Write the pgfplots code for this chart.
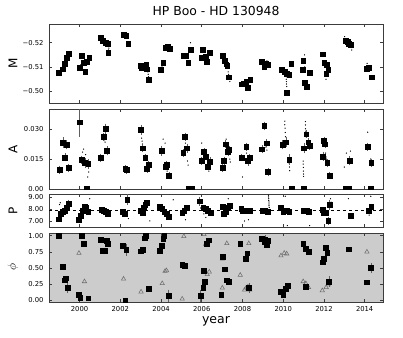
\documentclass[border=0pt]{standalone}
\usepackage{fontspec}
\setmainfont{DejaVu Sans}
\usepackage{pgfplots}
\pgfplotsset{compat=1.18}
\definecolor{panelgray}{RGB}{204,204,204}
\definecolor{axgray}{RGB}{60,60,60}
\definecolor{trigray}{RGB}{110,110,110}
\definecolor{errgray}{RGB}{95,95,95}

\pgfplotsset{
  panel/.style={
    scale only axis, width=334pt,
    xmin=1998.5, xmax=2014.9,
    xtick={2000,2002,...,2014}, xticklabels={},
    scaled y ticks=false, scaled x ticks=false,
    tick align=inside, xtick pos=both, ytick pos=both,
    major tick length=3pt,
    axis line style={axgray, line width=0.8pt},
    tick style={axgray, line width=0.6pt},
    ticklabel style={font=\fontsize{6.8}{8}\selectfont},
    yticklabel style={xshift=-2pt},
    ylabel style={font=\fontsize{12}{14}\selectfont, at={(axis description cs:-0.108,0.5)}, anchor=center},
    clip marker paths=true,
    anchor=north west,
  },
  sq/.style={only marks, mark=square*, mark size=2.4pt, black},
  dots/.style={only marks, mark=*, mark size=0.35pt, black},
  tri/.style={only marks, mark=triangle, mark size=2.5pt, trigray, mark options={line width=0.55pt}},
  errb/.style={error bars/.cd, y dir=both, y explicit,
    error bar style={errgray, line width=0.5pt},
    error mark options={errgray, mark size=1.6pt, line width=0.5pt}},
}

\begin{document}
\begin{tikzpicture}
\useasboundingbox (0,0) rectangle (403pt,-337pt);

% ---- M panel
\begin{axis}[panel, at={(49pt,-24pt)}, height=79pt,
  y dir=reverse, ymin=-0.5277, ymax=-0.4952,
  ytick={-0.52,-0.51,-0.50}, yticklabels={−0.52,−0.51,−0.50},
  ylabel={M},
  title={HP Boo - HD 130948},
  title style={font=\fontsize{12.4}{14}\selectfont, at={(axis description cs:0.5,1)}, anchor=center, yshift=7.5pt}]
\addplot[dots] coordinates {
 (1999.05,-0.5065) (1999.10,-0.5073) (2000.05,-0.5090) (2000.40,-0.5130) (2001.42,-0.5170)
 (2001.44,-0.5178) (2002.40,-0.5190) (2002.42,-0.5185) (2003.35,-0.5080) (2003.37,-0.5070)
 (2003.39,-0.5060) (2004.05,-0.5100) (2004.40,-0.5170) (2005.45,-0.5200) (2006.20,-0.5130)
 (2007.30,-0.5080) (2007.32,-0.5070) (2007.36,-0.5050) (2007.38,-0.5040) (2008.30,-0.5030)
 (2009.20,-0.5125) (2010.15,-0.5060) (2010.15,-0.5050) (2010.16,-0.5040) (2010.16,-0.5030)
 (2010.17,-0.5020) (2011.05,-0.5150) (2011.06,-0.5100) (2012.10,-0.5050) (2012.17,-0.5095)
 (2013.02,-0.5225) (2013.35,-0.5180) (2013.37,-0.5170) (2014.12,-0.5115)};
\addplot[sq, errb] coordinates {(2000.02,-0.5097) +- (0,0.0008)};
\addplot[sq] coordinates {
 (1998.99,-0.5077) (1999.16,-0.5091) (1999.27,-0.5115) (1999.37,-0.5140) (1999.45,-0.5156)
 (2000.10,-0.5145) (2000.21,-0.5119) (2000.28,-0.5081) (2000.37,-0.5122) (2000.47,-0.5138)
 (2001.02,-0.5222) (2001.15,-0.5208) (2001.28,-0.5200) (2001.38,-0.5195) (2001.41,-0.5159)
 (2002.16,-0.5232) (2002.29,-0.5228) (2002.39,-0.5197)
 (2002.98,-0.5104) (2003.05,-0.5098) (2003.11,-0.5104) (2003.17,-0.5096) (2003.23,-0.5101)
 (2003.27,-0.5108) (2003.30,-0.5091) (2003.41,-0.5047)
 (2004.00,-0.5088) (2004.11,-0.5118) (2004.21,-0.5181) (2004.32,-0.5184) (2004.44,-0.5177)
 (2005.09,-0.5145) (2005.22,-0.5145) (2005.33,-0.5118) (2005.45,-0.5170)
 (2005.98,-0.5140) (2006.06,-0.5170) (2006.19,-0.5142) (2006.26,-0.5122) (2006.39,-0.5159)
 (2007.01,-0.5145) (2007.11,-0.5126) (2007.20,-0.5112) (2007.25,-0.5107) (2007.33,-0.5058)
 (2007.94,-0.5029) (2008.06,-0.5033) (2008.18,-0.5040) (2008.26,-0.5015) (2008.38,-0.5047)
 (2008.96,-0.5122) (2009.07,-0.5101) (2009.16,-0.5115) (2009.25,-0.5108)
 (2009.93,-0.5088) (2010.06,-0.5081) (2010.18,-0.5074) (2010.29,-0.5067) (2010.39,-0.5115) (2010.16,-0.4994)
 (2010.98,-0.5126) (2010.94,-0.5088) (2011.07,-0.5035) (2011.17,-0.5019) (2011.30,-0.5077)
 (2011.95,-0.5153) (2012.01,-0.5118) (2012.13,-0.5108) (2012.11,-0.5071) (2012.21,-0.5088)
 (2013.06,-0.5208) (2013.15,-0.5203) (2013.23,-0.5197) (2013.32,-0.5191)
 (2014.10,-0.5092) (2014.20,-0.5097) (2014.34,-0.5058)};
\end{axis}

% ---- A panel
\begin{axis}[panel, at={(49pt,-109pt)}, height=80pt,
  ymin=0, ymax=0.0401,
  ytick={0,0.015,0.030}, yticklabels={0.00,0.015,0.030},
  ylabel={A}]
\addplot[dots] coordinates {
 (2010.08,0.0340) (2010.08,0.0322) (2010.09,0.0305) (2010.10,0.0283) (2010.11,0.0262)
 (2010.30,0.0128) (2010.31,0.0110) (2010.32,0.0092)
 (2011.09,0.0338) (2011.09,0.0321) (2011.10,0.0302) (2011.11,0.0290) (2011.12,0.0262)
 (2010.98,0.0140) (2010.98,0.0125) (2010.99,0.0108) (2010.99,0.0090) (2011.00,0.0075) (2011.00,0.0063)
 (2012.08,0.0180) (2012.10,0.0160) (2012.12,0.0150)
 (2000.15,0.0185) (2000.20,0.0200) (2000.30,0.0172) (2000.45,0.0085) (2000.40,0.0060)
 (2001.20,0.0245) (2001.25,0.0235) (2001.30,0.0250)
 (2003.05,0.0255) (2003.07,0.0240) (2003.09,0.0225)
 (2004.10,0.0250) (2004.20,0.0230) (2004.30,0.0090)
 (2005.20,0.0230) (2005.25,0.0210) (2005.30,0.0140) (2005.33,0.0120)
 (2006.00,0.0230) (2006.35,0.0090) (2006.40,0.0110)
 (2007.20,0.0250) (2007.38,0.0150) (2007.40,0.0135)
 (2008.00,0.0060) (2008.20,0.0180)
 (2009.15,0.0210) (2009.20,0.0195)
 (2013.00,0.0110) (2013.10,0.0180) (2013.30,0.0190)
 (2014.15,0.0285) (2014.30,0.0150)};
\addplot[sq, errb] coordinates {
 (1999.02,0.0097) +- (0,0.0012) (1999.19,0.0233) +- (0,0.0018) (1999.28,0.0158) +- (0,0.0012)
 (1999.35,0.0222) +- (0,0.0015) (1999.45,0.0105) +- (0,0.0012)
 (2000.00,0.0335) +- (0,0.0065) (2000.10,0.0147) +- (0,0.0012) (2000.26,0.0130) +- (0,0.0015)
 (2000.42,0.0125) +- (0,0.0015)
 (2001.04,0.0155) +- (0,0.0012) (2001.17,0.0263) +- (0,0.0012) (2001.27,0.0302) +- (0,0.0018)
 (2001.35,0.0192) +- (0,0.0015)
 (2002.24,0.0100) +- (0,0.0010) (2002.31,0.0095) +- (0,0.0010)
 (2003.02,0.0297) +- (0,0.0017) (2003.10,0.0205) +- (0,0.0010) (2003.22,0.0158) +- (0,0.0010)
 (2003.30,0.0102) +- (0,0.0012) (2003.38,0.0122) +- (0,0.0012)
 (2004.03,0.0192) +- (0,0.0018) (2004.22,0.0113) +- (0,0.0012) (2004.27,0.0122) +- (0,0.0012)
 (2004.39,0.0068) +- (0,0.0010)
 (2005.09,0.0180) +- (0,0.0012) (2005.17,0.0263) +- (0,0.0012) (2005.28,0.0205) +- (0,0.0015)
 (2005.98,0.0142) +- (0,0.0012) (2006.11,0.0185) +- (0,0.0012) (2006.21,0.0163) +- (0,0.0012)
 (2006.31,0.0113) +- (0,0.0012) (2006.40,0.0138) +- (0,0.0012)
 (2007.01,0.0105) +- (0,0.0010) (2007.09,0.0142) +- (0,0.0012) (2007.17,0.0225) +- (0,0.0012)
 (2007.28,0.0188) +- (0,0.0015) (2007.33,0.0197) +- (0,0.0012)
 (2007.95,0.0158) +- (0,0.0010) (2008.18,0.0213) +- (0,0.0012) (2008.27,0.0142) +- (0,0.0018)
 (2008.34,0.0155) +- (0,0.0012)
 (2008.96,0.0200) +- (0,0.0012) (2009.07,0.0318) +- (0,0.0012) (2009.19,0.0230) +- (0,0.0012)
 (2009.25,0.0085) +- (0,0.0010)
 (2009.97,0.0222) +- (0,0.0015) (2010.13,0.0235) +- (0,0.0018) (2010.29,0.0147) +- (0,0.0018)
 (2011.02,0.0205) +- (0,0.0018) (2011.13,0.0275) +- (0,0.0012) (2011.23,0.0235) +- (0,0.0012)
 (2011.30,0.0218) +- (0,0.0012)
 (2011.95,0.0163) +- (0,0.0015) (2012.00,0.0242) +- (0,0.0012) (2012.05,0.0225) +- (0,0.0012)
 (2012.16,0.0130) +- (0,0.0012) (2012.27,0.0068) +- (0,0.0010)
 (2013.25,0.0142) +- (0,0.0015) (2014.13,0.0213) +- (0,0.0012) (2014.32,0.0130) +- (0,0.0012)};
\addplot[sq] coordinates {
 (2000.34,0) (2005.35,0) (2005.50,0) (2010.42,0) (2010.99,0) (2013.05,0) (2013.20,0) (2014.30,0)};
\end{axis}

% ---- P panel
\begin{axis}[panel, at={(49pt,-194pt)}, height=33pt,
  ymin=6.48, ymax=9.30,
  ytick={7,8,9}, yticklabels={7.00,8.00,9.00},
  ylabel={P}]
\addplot[black, dashed, line width=0.6pt] coordinates {(1998.5,7.87) (2014.9,7.87)};
\addplot[dots] coordinates {
 (2009.28,9.20) (2009.28,9.05) (2009.29,8.90) (2009.29,8.75) (2009.30,8.62) (2009.30,8.45)
 (2009.30,8.30) (2009.31,8.15)
 (1999.02,8.40) (1999.05,8.55) (2000.50,8.90) (2004.60,8.80) (2006.20,7.30) (2005.20,7.10)
 (2007.30,8.90) (2008.10,7.00) (2008.30,7.10) (2010.10,9.10) (2010.20,6.60) (2011.30,6.60)
 (2013.20,8.90) (2014.30,9.10) (2014.22,7.50) (2012.32,8.90) (2012.35,8.60) (2003.45,7.00)
 (2006.10,7.60) (2005.95,8.10) (2002.40,7.20)};
\addplot[sq, errb] coordinates {
 (1999.45,8.48) +- (0,0.20) (2002.34,8.83) +- (0,0.35) (2005.90,8.68) +- (0,0.25)
 (2012.21,7.03) +- (0,0.20) (2012.28,8.39) +- (0,0.30)};
\addplot[sq] coordinates {
 (1998.99,7.15) (1999.07,7.61) (1999.16,7.81) (1999.28,7.90) (1999.35,8.10)
 (1999.97,7.09) (2000.06,7.43) (2000.16,7.90) (2000.26,8.19) (2000.32,8.10) (2000.42,7.81)
 (2001.07,7.96) (2001.19,7.90) (2001.27,7.81) (2001.37,7.61)
 (2002.11,7.81) (2002.21,7.61)
 (2003.02,7.90) (2003.09,7.72) (2003.14,8.10) (2003.22,8.39) (2003.30,8.59)
 (2003.95,8.24) (2004.06,8.02) (2004.16,7.81) (2004.27,7.61) (2004.36,7.37)
 (2005.04,7.72) (2005.14,7.90) (2005.25,8.10)
 (2006.07,8.10) (2006.18,8.02) (2006.31,7.90) (2006.44,7.72)
 (2007.01,8.24) (2007.07,7.61) (2007.17,7.81) (2007.28,8.10) (2007.37,8.30)
 (2007.94,8.02) (2008.01,7.90) (2008.21,7.90) (2008.34,7.90)
 (2008.99,7.90) (2009.12,7.90) (2009.23,7.81)
 (2009.88,8.10) (2010.00,7.81) (2010.16,7.90) (2010.29,7.81)
 (2011.02,7.90) (2011.15,7.90) (2011.27,7.81)
 (2011.92,7.96) (2012.00,7.67) (2012.11,7.72)
 (2013.30,7.43) (2014.20,7.90) (2014.32,8.19)};
\end{axis}

% ---- phase panel
\begin{axis}[panel, at={(49pt,-233pt)}, height=69pt,
  axis background/.style={fill=panelgray},
  ymin=-0.028, ymax=1.042,
  ytick={0,0.25,0.5,0.75,1}, yticklabels={0.00,0.25,0.50,0.75,1.00},
  ylabel={$\phi$},
  xticklabels={2000,2002,2004,2006,2008,2010,2012,2014},
  xticklabel style={yshift=-1pt},
  xlabel={year},
  xlabel style={font=\fontsize{12.5}{14}\selectfont, at={(axis description cs:0.5,-0.28)}, anchor=center}]
\addplot[tri] coordinates {
 (1999.97,0.73) (2000.24,0.29) (2002.16,0.33) (2003.02,0.13) (2004.06,0.26) (2004.20,0.45)
 (2004.27,0.46) (2005.04,0.02) (2005.12,0.99) (2006.11,1.02) (2006.19,0.87) (2006.27,0.40)
 (2006.37,0.44) (2007.01,0.19) (2007.02,0.64) (2007.06,0.67) (2007.23,0.88) (2007.89,0.39)
 (2008.10,0.16) (2008.18,0.19) (2008.27,0.21) (2008.36,0.16) (2008.31,0.88) (2009.89,0.69)
 (2010.05,0.73) (2010.17,0.72) (2010.98,0.29) (2011.11,0.26) (2011.24,0.20) (2011.92,0.15)
 (2012.11,0.20) (2012.21,0.24) (2014.11,0.75)};
\addplot[sq, errb] coordinates {
 (1999.40,0.20) +- (0,0.06) (2002.29,0.78) +- (0,0.07) (2004.36,0.07) +- (0,0.07)
 (2005.95,0.07) +- (0,0.07) (2008.31,0.19) +- (0,0.05) (2009.12,0.94) +- (0,0.04)
 (2012.24,0.29) +- (0,0.06) (2014.30,0.50) +- (0,0.05)};
\addplot[sq] coordinates {
 (1998.99,1.00) (1999.16,0.52) (1999.28,0.31) (1999.32,0.34)
 (1999.97,0.09) (2000.03,0.04) (2000.11,1.00) (2000.21,0.88) (2000.42,0.03)
 (2001.02,0.94) (2001.14,0.77) (2001.23,0.77) (2001.32,0.92) (2001.40,0.87)
 (2002.13,0.84) (2002.24,0.00)
 (2003.02,0.76) (2003.10,0.78) (2003.19,0.96) (2003.25,1.00) (2003.38,0.18)
 (2003.95,0.77) (2004.03,0.84) (2004.11,0.95) (2004.16,1.00)
 (2005.04,0.55) (2005.17,0.53)
 (2006.07,0.20) (2006.15,0.29) (2006.11,0.46) (2006.24,0.87) (2006.34,0.93)
 (2006.96,0.08) (2007.04,0.67) (2007.12,0.48) (2007.23,0.31) (2007.32,0.29)
 (2007.89,0.87) (2008.15,0.64) (2008.23,0.73)
 (2008.96,0.95) (2009.07,0.90) (2009.19,0.86) (2009.25,0.92)
 (2009.89,0.13) (2010.00,0.09) (2010.11,0.18) (2010.21,0.23)
 (2010.98,0.87) (2011.11,0.80) (2011.24,0.75) (2011.11,0.21)
 (2011.92,0.59) (2012.00,0.64) (2012.08,0.81) (2012.16,0.74)
 (2013.22,0.79) (2014.11,0.28)};
\end{axis}
\end{tikzpicture}
\end{document}
